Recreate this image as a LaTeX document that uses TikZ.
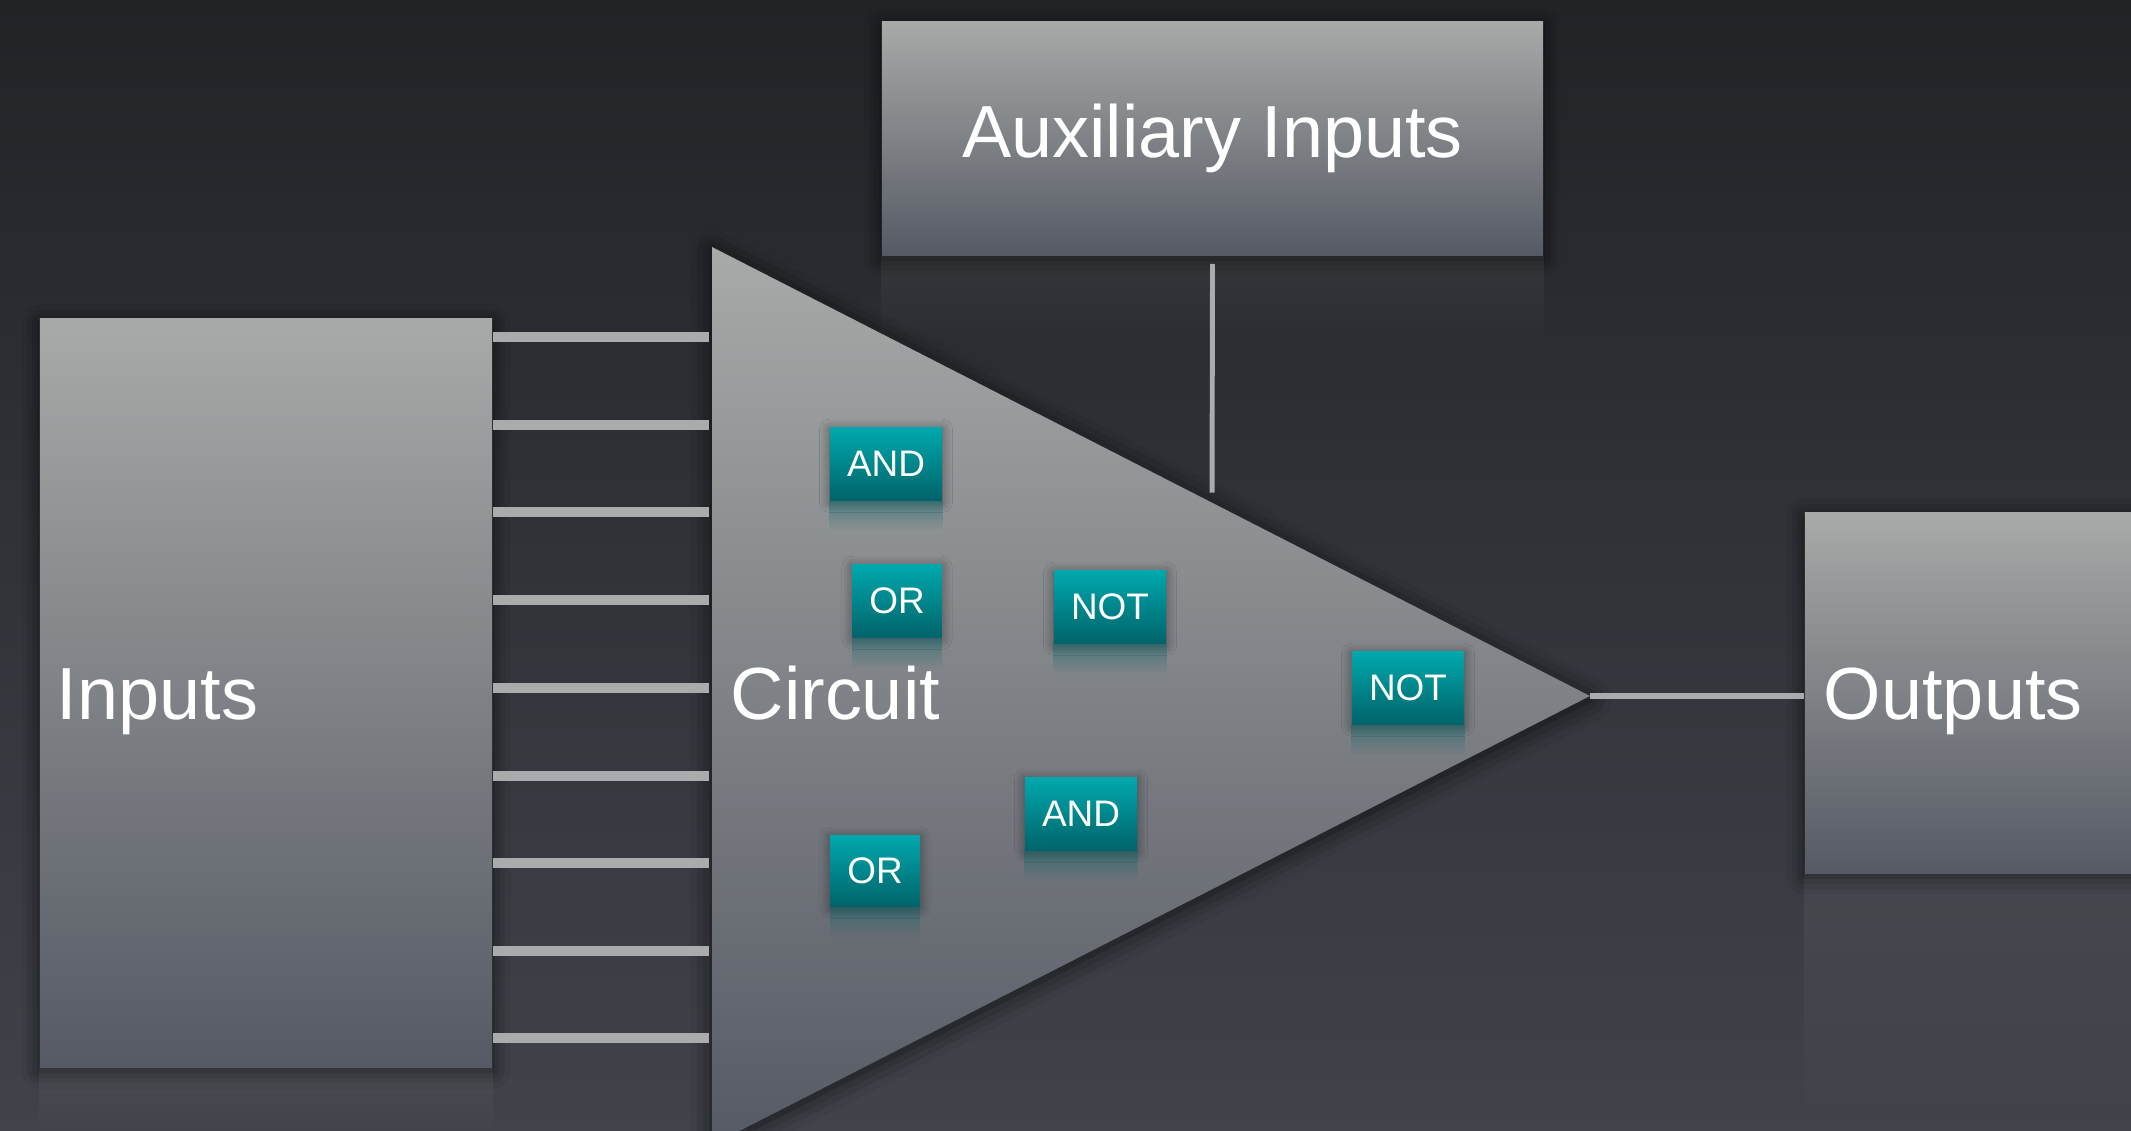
\documentclass[tikz,border=0pt]{standalone}
\usepackage{fontspec}
\setmainfont{Liberation Sans}
\setsansfont{Liberation Sans}
\usepackage{tikz}
\usetikzlibrary{positioning, calc, shadows.blur, fadings}

\definecolor{bgtop}{RGB}{33,35,39}
\definecolor{bgbot}{RGB}{64,67,74}
\definecolor{boxtop}{RGB}{167,170,168}
\definecolor{boxbot}{RGB}{86,90,100}
\definecolor{gatetop}{RGB}{0,168,173}
\definecolor{gatebot}{RGB}{0,100,106}
\definecolor{wirecol}{RGB}{170,171,173}

\tikzset{
  blockbox/.style={
    rectangle, top color=boxtop, bottom color=boxbot, inner sep=0pt,
    blur shadow={shadow xshift=0pt, shadow yshift=-1pt, shadow blur radius=5pt, shadow opacity=70}
  },
  blocklabel/.style={font=\fontsize{21}{25}\selectfont, text=white, inner sep=0pt},
  gatebox/.style={
    rectangle, top color=gatetop, bottom color=gatebot, inner sep=0pt,
    minimum width=1.12cm, minimum height=0.72cm,
    font=\fontsize{10.5}{12}\selectfont, text=white,
    blur shadow={shadow xshift=0pt, shadow yshift=-0.5pt, shadow blur radius=3pt, shadow blur steps=12, shadow opacity=45}
  },
  busline/.style={draw=wirecol, line width=2.8pt},
  thinwire/.style={draw=wirecol, line width=1.4pt},
  mirror/.style={fill=white, fill opacity=0.06, path fading=south},
  gatemirror/.style={fill=gatebot, fill opacity=0.45, path fading=south},
}

\begin{document}
\begin{tikzpicture}[x=0.01cm, y=-0.01cm]
  \clip (0,0) rectangle (2131,1131);
  % Backdrop
  \shade[top color=bgtop, bottom color=bgbot] (0,0) rectangle (2131,1131);

  % Blocks
  \node[blockbox, minimum width=4.52cm, minimum height=7.48cm] (inputs) at (266,693) {};
  \node[blockbox, minimum width=6.61cm, minimum height=2.33cm, font=\fontsize{21}{25}\selectfont, text=white] (aux) at (1212.5,138.5) {Auxiliary Inputs};
  \node[blockbox, minimum width=3.60cm, minimum height=3.60cm] (outputs) at (1985,693) {};

  % Reflections
  \fill[mirror] (inputs.south west) rectangle ($(inputs.south east)+(0,70)$);
  \fill[mirror] (aux.south west) rectangle ($(aux.south east)+(0,90)$);
  \fill[mirror] (outputs.south west) rectangle ($(outputs.south east)+(0,260)$);

  % Circuit
  \coordinate (ctop) at (712,247);
  \coordinate (cbot) at (712,1145);
  \coordinate (capex) at (1590,696);
  \shade[top color=boxtop, bottom color=boxbot,
    blur shadow={shadow xshift=0pt, shadow yshift=-1pt, shadow blur radius=6pt, shadow opacity=70}]
    (ctop) -- (capex) -- (cbot) -- cycle;
  \coordinate (auxtap) at ($(ctop)!0.5695!(capex)$);

  % Labels
  \node[blocklabel, anchor=base west] (inputslabel) at ($(inputs.west)+(17,26)$) {Inputs};
  \node[blocklabel, anchor=base west] (circuitlabel) at ($(ctop)!0.5!(cbot)+(18,23)$) {Circuit};
  \node[blocklabel, anchor=base west] (outputslabel) at ($(outputs.west)+(19,26)$) {Outputs};

  % Wires
  \foreach \y in {337,425,512,600,688,776,863,951,1038}
    \draw[busline, shorten >=0.03cm] (inputs.east |- 0,\y) -- (ctop |- 0,\y);
  \draw[thinwire] ([yshift=-0.08cm]aux.south) -- ([yshift=0.1cm]auxtap);
  \draw[thinwire, line width=1.6pt] (capex) -- (outputs.west |- capex);

  % Gates
  \node[gatebox] (and1) at (886,464) {AND};
  \node[gatebox, minimum width=0.89cm] (or1) at (897,601) {OR};
  \node[gatebox] (not1) at (1110,607) {NOT};
  \node[gatebox] (not2) at (1408,688) {NOT};
  \node[gatebox] (and2) at (1081,814) {AND};
  \node[gatebox, minimum width=0.89cm, minimum height=0.70cm] (or2) at (875,871) {OR};
  \foreach \g in {and1,or1,not1,not2,and2,or2}
    \fill[gatemirror] (\g.south west) rectangle ($(\g.south east)+(0,30)$);
\end{tikzpicture}
\end{document}
